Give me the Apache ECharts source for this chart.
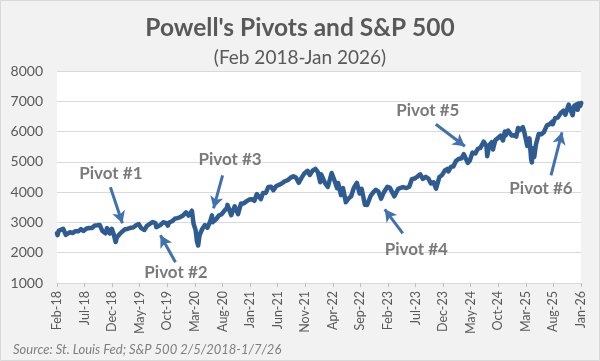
<!DOCTYPE html>
<html><head><meta charset="utf-8">
<script src="https://cdn.jsdelivr.net/npm/echarts@6/dist/echarts.min.js"></script>
<style>html,body{margin:0;padding:0;background:#f2f2f2}#c{width:600px;height:361px}</style>
</head><body><div id="c"></div>
<script>
// Tick labels every 5 months, starting Feb-18
const tickLabels = ['Feb-18','Jul-18','Dec-18','May-19','Oct-19','Mar-20','Aug-20','Jan-21','Jun-21','Nov-21','Apr-22','Sep-22','Feb-23','Jul-23','Dec-23','May-24','Oct-24','Mar-25','Aug-25','Jan-26'];

const dates = ['2018-02-05','2018-02-08','2018-02-15','2018-02-26','2018-03-09','2018-03-23','2018-04-02','2018-04-16','2018-04-30','2018-05-15','2018-05-31','2018-06-15','2018-06-29','2018-07-16','2018-07-31','2018-08-15','2018-08-31','2018-09-14','2018-09-28','2018-10-11','2018-10-19','2018-10-29','2018-11-07','2018-11-23','2018-12-03','2018-12-14','2018-12-24','2018-12-31',
'2019-01-15','2019-01-31','2019-02-15','2019-02-28','2019-03-15','2019-03-29','2019-04-15','2019-04-30','2019-05-13','2019-05-31','2019-06-14','2019-06-28','2019-07-15','2019-07-31','2019-08-05','2019-08-15','2019-08-30','2019-09-13','2019-09-30','2019-10-08','2019-10-15','2019-10-31','2019-11-15','2019-11-29','2019-12-13','2019-12-31',
'2020-01-17','2020-01-31','2020-02-19','2020-02-28','2020-03-09','2020-03-16','2020-03-23','2020-03-31','2020-04-15','2020-04-30','2020-05-13','2020-05-29','2020-06-08','2020-06-11','2020-06-30','2020-07-15','2020-07-31','2020-08-14','2020-08-31','2020-09-02','2020-09-23','2020-09-30','2020-10-12','2020-10-30','2020-11-16','2020-11-30','2020-12-15','2020-12-31',
'2021-01-15','2021-01-29','2021-02-12','2021-03-04','2021-03-15','2021-03-31','2021-04-15','2021-04-30','2021-05-12','2021-05-28','2021-06-15','2021-06-30','2021-07-15','2021-07-30','2021-08-16','2021-08-31','2021-09-02','2021-09-15','2021-09-30','2021-10-04','2021-10-15','2021-10-29','2021-11-18','2021-11-30','2021-12-15','2021-12-31',
'2022-01-03','2022-01-14','2022-01-27','2022-02-02','2022-02-24','2022-03-08','2022-03-29','2022-04-14','2022-04-29','2022-05-04','2022-05-20','2022-05-31','2022-06-16','2022-06-30','2022-07-15','2022-07-29','2022-08-16','2022-08-31','2022-09-12','2022-09-30','2022-10-12','2022-10-31','2022-11-15','2022-11-30','2022-12-13','2022-12-28',
'2023-01-13','2023-02-02','2023-02-15','2023-03-10','2023-03-31','2023-04-14','2023-04-28','2023-05-15','2023-05-31','2023-06-15','2023-06-30','2023-07-14','2023-07-31','2023-08-15','2023-08-31','2023-09-15','2023-09-29','2023-10-13','2023-10-27','2023-11-15','2023-11-30','2023-12-15','2023-12-29',
'2024-01-04','2024-01-19','2024-01-31','2024-02-15','2024-02-29','2024-03-15','2024-03-28','2024-04-19','2024-04-30','2024-05-15','2024-05-31','2024-06-14','2024-06-28','2024-07-16','2024-07-31','2024-08-05','2024-08-15','2024-08-30','2024-09-06','2024-09-19','2024-09-30','2024-10-18','2024-10-31','2024-11-11','2024-11-15','2024-11-29','2024-12-06','2024-12-18','2024-12-31',
'2025-01-13','2025-01-23','2025-01-31','2025-02-19','2025-02-28','2025-03-13','2025-03-25','2025-04-04','2025-04-08','2025-04-09','2025-04-21','2025-04-30','2025-05-15','2025-05-30','2025-06-13','2025-06-30','2025-07-15','2025-07-31','2025-08-01','2025-08-15','2025-08-29','2025-09-15','2025-09-30','2025-10-10','2025-10-28','2025-11-07','2025-11-20','2025-11-28','2025-12-11','2025-12-17','2025-12-24','2025-12-31','2026-01-06'];
const spx = [2649,2581,2731,2780,2786,2588,2582,2677,2648,2711,2705,2780,2718,2798,2816,2818,2902,2905,2914,2728,2767,2641,2814,2633,2790,2600,2351,2507,
2610,2704,2775,2784,2822,2834,2905,2946,2812,2752,2887,2942,3014,2980,2844,2848,2926,3007,2977,2893,2996,3038,3120,3141,3169,3231,
3330,3226,3386,2954,2747,2386,2237,2585,2783,2912,2820,3044,3232,3002,3100,3227,3271,3373,3500,3580,3237,3363,3534,3270,3627,3622,3695,3756,
3768,3714,3934,3768,3968,3973,4170,4181,4063,4204,4246,4298,4360,4395,4479,4523,4537,4480,4308,4300,4471,4605,4704,4567,4709,4766,
4797,4662,4326,4589,4288,4170,4631,4392,4132,4300,3901,4132,3667,3785,3863,4130,4305,3955,4110,3586,3577,3872,3992,4080,4020,3783,
3999,4179,4148,3862,4109,4138,4169,4136,4180,4426,4450,4505,4589,4438,4508,4450,4288,4327,4117,4502,4568,4719,4770,
4688,4840,4846,5030,5096,5117,5254,4967,5036,5308,5278,5431,5460,5667,5522,5186,5543,5648,5408,5714,5762,5864,5705,6001,5870,6032,6090,5872,5882,
5836,6119,6040,6144,5955,5522,5776,5074,4982,5457,5158,5569,5916,5912,5977,6205,6244,6339,6238,6450,6460,6615,6688,6553,6891,6729,6538,6849,6901,6721,6932,6845,6944];

// Annotations in data space: [month index, value]
const pivotNames = ['Pivot #1','Pivot #2','Pivot #3','Pivot #4','Pivot #5','Pivot #6'];
const pivotTextAt = [[9.77,4621],[21.57,1353],[31.37,5083],[65.14,2112],[67.23,6701],[87.75,4126]];
const arrowFrom = [[9.68,4159],[21.48,1683],[30.02,4555],[62.69,2641],[68.68,6240],[89.56,4555]];
const arrowTo = [[11.86,2971],[18.75,2575],[28.38,3466],[59.42,3433],[73.95,5513],[91.56,5974]];

function monthIndex(s){
  const [y,m,d] = s.split('-').map(Number);
  return (y-2018)*12 + (m-2) + (d-5)/30.4;
}
const seriesData = dates.map((d,i)=>[monthIndex(d), spx[i]]);

const chart = echarts.init(document.getElementById('c'));
const FONT = 'Lato, "Open Sans", sans-serif';
chart.setOption({
  backgroundColor:'#f2f2f2',
  animation:false,
  textStyle:{fontFamily:FONT},
  title:{
    text:"Powell's Pivots and S&P 500",
    subtext:'(Feb 2018-Jan 2026)',
    left:'center', top:11, itemGap:7,
    textStyle:{fontFamily:FONT,fontWeight:'bold',fontSize:24.5,color:'#595959'},
    subtextStyle:{fontFamily:FONT,fontSize:19,color:'#595959'}
  },
  grid:{left:57,right:19,top:71,bottom:78,show:true,backgroundColor:'#ffffff',borderWidth:0},
  xAxis:{
    type:'value',min:0,max:95,interval:5,
    axisLine:{show:true,lineStyle:{color:'#d9d9d9',width:1}},
    axisTick:{show:true,length:4,lineStyle:{color:'#bfbfbf'}},
    splitLine:{show:false},
    axisLabel:{rotate:90,margin:8,color:'#595959',fontSize:12.5,fontFamily:FONT,
      showMinLabel:true,showMaxLabel:true,
      formatter:v=>tickLabels[Math.round(v/5)]||''}
  },
  yAxis:{
    type:'value',min:1000,max:8000,interval:1000,
    axisLine:{show:false},axisTick:{show:false},
    splitLine:{lineStyle:{color:'#d9d9d9',width:1}},
    axisLabel:{margin:14,color:'#595959',fontSize:14,fontFamily:FONT,formatter:v=>String(v)}
  },
  series:[
    {type:'line',data:seriesData,showSymbol:false,symbol:'none',clip:true,
     lineStyle:{color:'#2e5c92',width:4.5,join:'round',cap:'round'},z:3},
    {type:'scatter',symbolSize:1,itemStyle:{color:'rgba(0,0,0,0)'},z:5,
     data:pivotTextAt.map((p,i)=>({value:p,name:pivotNames[i]})),
     label:{show:true,position:'inside',formatter:p=>p.name,fontFamily:FONT,fontWeight:'bold',fontSize:17,color:'#595959'},
     markLine:{silent:true,animation:false,symbol:['none','arrow'],symbolSize:[10,12],
       label:{show:false},
       lineStyle:{type:'solid',width:3,color:'#4071b0'},
       data:arrowFrom.map((a,i)=>[{coord:a},{coord:arrowTo[i]}])}
    }
  ],
  graphic:[
    {type:'rect',shape:{x:0.5,y:0.5,width:599,height:360},style:{fill:'none',stroke:'#d9d9d9',lineWidth:1},silent:true},
    {type:'text',left:13,top:343,style:{text:'Source: St. Louis Fed; S&P 500 2/5/2018-1/7/26',font:'italic 13px '+FONT,fill:'#7f7f7f'}}
  ]
});
</script></body></html>
